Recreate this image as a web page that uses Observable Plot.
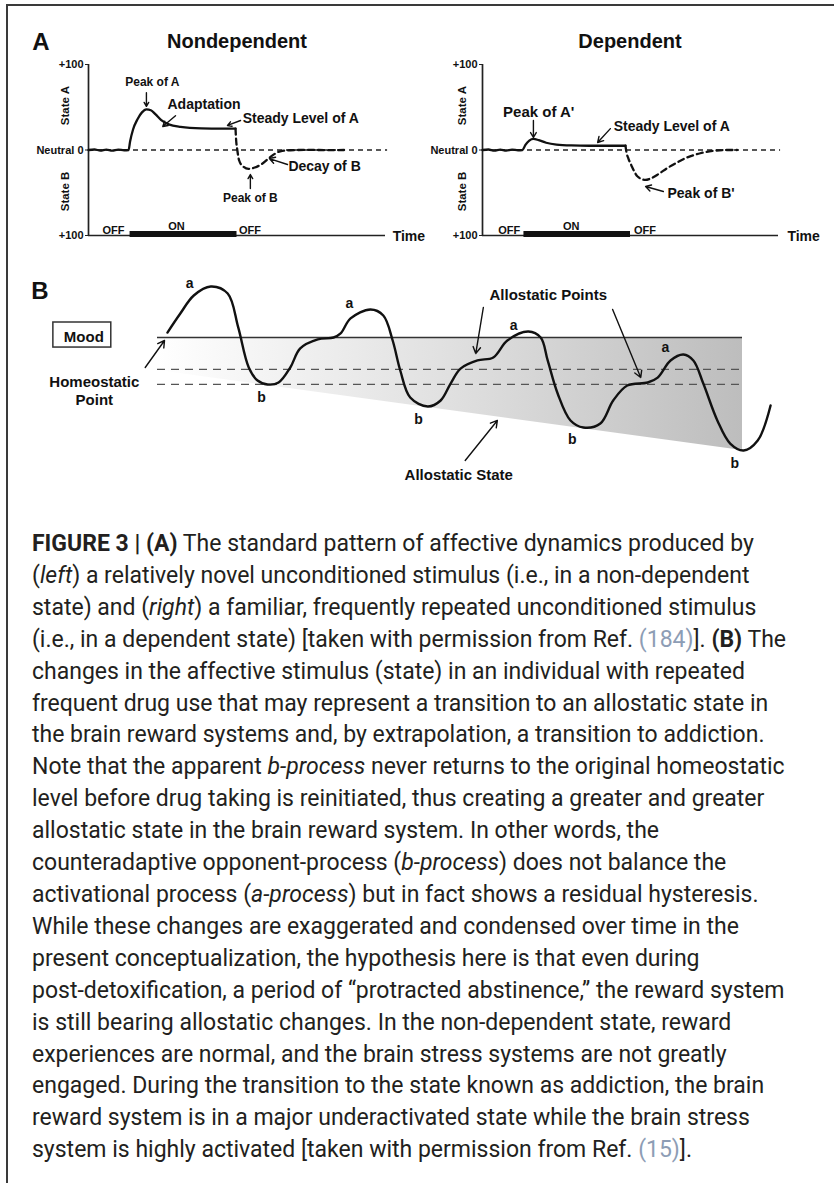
<!DOCTYPE html>
<html>
<head>
<meta charset="utf-8">
<script src="https://cdn.jsdelivr.net/npm/d3@7"></script>
<script src="https://cdn.jsdelivr.net/npm/@observablehq/plot@0.6"></script>
<style>
  body { margin: 0; background: #fff; }
  #page { position: relative; width: 834px; height: 1183px; overflow: hidden; background: #fff;
          font-family: "Liberation Sans", Arial, sans-serif; color: #111; }
  #frame { position: absolute; left: 6px; top: 4px; width: 900px; height: 1300px;
           border-left: 2px solid #3a3a3a; border-top: 2px solid #3a3a3a; }
  .panel { position: absolute; top: 0; }
  .lbl { position: absolute; font-weight: bold; transform: translate(-50%, -50%); white-space: nowrap; line-height: 1; }
  #caption { position: absolute; left: 32px; top: 528px; font-family: Roboto, "Noto Sans", sans-serif;
             font-size: 23px; line-height: 31.9px; color: #231f20; white-space: nowrap; }
  #caption b { font-weight: 700; }
  .ref { color: #8d9db5; }
</style>
</head>
<body>
<div id="page">
  <div id="frame"></div>
  <div class="lbl" style="left:41px;top:42px;font-size:24px">A</div>
  <div class="lbl" style="left:237px;top:41px;font-size:20px">Nondependent</div>
  <div class="lbl" style="left:630px;top:41px;font-size:20px">Dependent</div>
  <div class="lbl" style="left:40px;top:291px;font-size:24px">B</div>
  <div id="plotL" class="panel" style="left:0px"></div>
  <div id="plotR" class="panel" style="left:400px"></div>
  <div id="plotB" class="panel" style="left:0px;top:260px"></div>
  <div id="caption"></div>
</div>
<script>
// ---------------- Panel A data (t = time units 0..100, v = state -100..+100, A positive) ----------------
const yTicks = [-100, 0, 100];
const yTickLabels = ["+100", "Neutral 0", "+100"];
const onPeriod = [14, 50];

const leftSolid = [
  [0,0],[2,0.6],[4,-0.6],[6,0.5],[8,-0.8],[10,0.4],[12,-0.3],[13.5,0],
  [14,10],[15,24],[16.5,36],[18,44],[19.5,47.5],[21,46.5],[22.5,42],[24.5,35],
  [27,30],[31,27],[38,25.3],[45,25],[49.5,25]
];
const leftDashed = [
  [49.5,25],[49.7,12],[50.1,0],[50.7,-12],[52,-19],[53.9,-22],[56,-20.5],[58.5,-16],
  [61.3,-8],[64.6,-1.5],[68,-0.3],[75,0.2],[80,-0.2],[86.5,0]
];
const rightSolid = [
  [0,0],[2,0.6],[4,-0.7],[6,0.5],[8,-0.6],[10,0.4],[12,-0.3],[13.5,0],
  [14.5,6],[15.8,11],[17.2,13],[19,11.5],[21.5,8.5],[25,6.3],[30,5.3],[36,5],[48.3,5]
];
const rightDashed = [
  [48.3,5],[48.6,-2],[49.3,-10],[50.3,-18],[52.4,-31],[55,-35],[57,-33],[59.5,-28],
  [62.5,-21],[65.5,-15],[68.6,-9.5],[73.6,-3.8],[78,-1],[82,0],[86,0]
];

const leftLabels = [
  {t:21.5, v:79, text:"Peak of A", size:12, anchor:"middle"},
  {t:26.6, v:53, text:"Adaptation", size:14, anchor:"start"},
  {t:51.9, v:37, text:"Steady Level of A", size:14, anchor:"start"},
  {t:67.3, v:-19, text:"Decay of B", size:14, anchor:"start"},
  {t:54.5, v:-56, text:"Peak of B", size:12, anchor:"middle"},
  {t:8.4, v:-94, text:"OFF", size:11, anchor:"middle"},
  {t:29.6, v:-89, text:"ON", size:11, anchor:"middle"},
  {t:54.4, v:-94, text:"OFF", size:11, anchor:"middle"},
  {t:102.4, v:-101, text:"Time", size:14, anchor:"start"}
];
const leftArrows = [
  {t1:19.5, v1:67, t2:19.5, v2:51},
  {t1:29.3, v1:40, t2:25.0, v2:27.5},
  {t1:51.2, v1:34.5, t2:46.8, v2:28.7},
  {t1:67, v1:-17, t2:60.9, v2:-10},
  {t1:54.5, v1:-45, t2:54.5, v2:-28.7}
];
const rightLabels = [
  {t:19, v:44, text:"Peak of A'", size:15, anchor:"middle"},
  {t:44.3, v:27.5, text:"Steady Level of A", size:14, anchor:"start"},
  {t:62.5, v:-51, text:"Peak of B'", size:14, anchor:"start"},
  {t:9, v:-94, text:"OFF", size:11, anchor:"middle"},
  {t:30, v:-89, text:"ON", size:11, anchor:"middle"},
  {t:54.9, v:-94, text:"OFF", size:11, anchor:"middle"},
  {t:103, v:-101, text:"Time", size:14, anchor:"start"}
];
const rightArrows = [
  {t1:17.2, v1:34.5, t2:17.2, v2:14.6},
  {t1:43.2, v1:25, t2:38.9, v2:8.8},
  {t1:61.1, v1:-48.5, t2:55.1, v2:-42.7}
];
const stateLabels = [
  {text:"State A", v:52},
  {text:"State B", v:-48.5}
];

// ---------------- Panel B data (t = time 0..100, v = mood, 0 = homeostatic set point) ----------------
const wave = [
  [1.7,3.3],[3.9,16],[6.2,28],[9.1,34],[12.0,29.3],[13.8,6.7],[15.6,-20],[17.1,-28.7],
  [18.8,-31.3],[20.7,-30],[22.7,-20],[24.4,-7.3],[27.4,-1.3],[30.1,0],[31.3,2.7],[33.0,12.7],
  [36.4,18.7],[38.6,14.7],[40.2,-2],[41.5,-22],[43.2,-40],[46.2,-46],[48.4,-42],[50.1,-30.7],
  [51.8,-20.7],[54.7,-15.3],[57.4,-13.3],[59.8,-2],[63.4,4],[65.5,0],[66.7,-15.3],[68.4,-37.3],
  [70.6,-55.3],[72.8,-60],[75.7,-57.3],[77.9,-42],[80.3,-32],[83.8,-30],[85.5,-26.7],[87.7,-15.3],
  [89.9,-11.3],[91.6,-15.3],[93.3,-30.7],[95.7,-55.3],[97.9,-70.7],[100.2,-75.3],[102.6,-68.7],[104.8,-45.3]
];
const homeostaticBand = [-21.3, -31.3];
const allostaticState = [
  {t:0, top:0, bottom:-22},
  {t:100, top:0, bottom:-75.3}
];
const moodBox = [{t1:-17.8, t2:-7.9, v1:10, v2:-6.7}];
const waveLabels = [
  {t:5.5, v:36, text:"a"},{t:32.8, v:22.7, text:"a"},{t:60.9, v:8, text:"a"},{t:86.8, v:-6.7, text:"a"},
  {t:17.8, v:-40, text:"b"},{t:44.6, v:-54.7, text:"b"},{t:70.9, v:-68, text:"b"},{t:98.7, v:-84, text:"b"}
];
const bLabels = [
  {t:-12.6, v:1.3, text:"Mood"},
  {t:-10.8, v:-35, text:"Homeostatic\nPoint"},
  {t:66.8, v:29.3, text:"Allostatic Points"},
  {t:51.5, v:-90.7, text:"Allostatic State"}
];
const bArrows = [
  {t1:-2.1, v1:-20, t2:1.2, v2:-2},
  {t1:55.7, v1:20, t2:54.4, v2:-10.7},
  {t1:77.8, v1:18.7, t2:82.6, v2:-26.7},
  {t1:52.6, v1:-82, t2:58.1, v2:-55.3}
];

// ---------------- Caption ----------------
const captionLines = [
  '<b>FIGURE 3 | (A)</b> The standard pattern of affective dynamics produced by',
  '(<i>left</i>) a relatively novel unconditioned stimulus (i.e., in a non-dependent',
  'state) and (<i>right</i>) a familiar, frequently repeated unconditioned stimulus',
  '(i.e., in a dependent state) [taken with permission from Ref. <span class="ref">(184)</span>]. <b>(B)</b> The',
  'changes in the affective stimulus (state) in an individual with repeated',
  'frequent drug use that may represent a transition to an allostatic state in',
  'the brain reward systems and, by extrapolation, a transition to addiction.',
  'Note that the apparent <i>b-process</i> never returns to the original homeostatic',
  'level before drug taking is reinitiated, thus creating a greater and greater',
  'allostatic state in the brain reward system. In other words, the',
  'counteradaptive opponent-process (<i>b-process</i>) does not balance the',
  'activational process (<i>a-process</i>) but in fact shows a residual hysteresis.',
  'While these changes are exaggerated and condensed over time in the',
  'present conceptualization, the hypothesis here is that even during',
  'post-detoxification, a period of \u201cprotracted abstinence,\u201d the reward system',
  'is still bearing allostatic changes. In the non-dependent state, reward',
  'experiences are normal, and the brain stress systems are not greatly',
  'engaged. During the transition to the state known as addiction, the brain',
  'reward system is in a major underactivated state while the brain stress',
  'system is highly activated [taken with permission from Ref. <span class="ref">(15)</span>].'
];

// ---------------- Drawing ----------------
const ink = "#111";
const FONT = '"Liberation Sans", Arial, Helvetica, sans-serif';
const svgStyle = {background: "transparent", overflow: "visible", fontFamily: FONT, color: ink};
const toObj = (arr) => arr.map(([t, v]) => ({t, v}));

function panelA(cfg) {
  return Plot.plot({
    width: cfg.width, height: 250,
    marginLeft: cfg.marginLeft, marginRight: cfg.marginRight, marginTop: 64, marginBottom: 15,
    x: {domain: [0, 100], axis: null},
    y: {domain: [-100, 100], axis: null},
    style: svgStyle,
    marks: [
      Plot.ruleY([0], {x1: 0, x2: 100.7, stroke: "#222", strokeWidth: 1.3, strokeDasharray: "5,4"}),
      Plot.ruleX([0], {y1: -100, y2: 100, stroke: "#222", strokeWidth: 1.7}),
      Plot.ruleY([-100], {x1: 0, x2: 100, stroke: "#222", strokeWidth: 1.7}),
      Plot.ruleY([-100], {x1: onPeriod[0], x2: onPeriod[1], stroke: ink, strokeWidth: 6, dy: -1.5}),
      Plot.axisY({ticks: yTicks, tickFormat: (d) => yTickLabels[yTicks.indexOf(d)], tickSize: 3,
                  tickPadding: 2, fontSize: 11, fontWeight: "bold", stroke: "#222"}),
      Plot.text(stateLabels, {x: cfg.stateT, y: "v", text: "text", rotate: -90, fontSize: 11.5,
                              fontWeight: "bold", fill: ink}),
      Plot.line(toObj(cfg.solid), {x: "t", y: "v", curve: "monotone-x", stroke: ink, strokeWidth: 2.3}),
      Plot.line(toObj(cfg.dashed), {x: "t", y: "v", curve: "monotone-x", stroke: ink, strokeWidth: 2.3,
                                    strokeDasharray: "6,4"}),
      Plot.text(cfg.labels.filter(d => d.anchor === "start"), {x: "t", y: "v", text: "text",
                fontSize: d => d.size, fontWeight: "bold", textAnchor: "start", fill: ink}),
      Plot.text(cfg.labels.filter(d => d.anchor === "middle"), {x: "t", y: "v", text: "text",
                fontSize: d => d.size, fontWeight: "bold", textAnchor: "middle", fill: ink}),
      Plot.arrow(cfg.arrows, {x1: "t1", y1: "v1", x2: "t2", y2: "v2", stroke: ink, strokeWidth: 1.4,
                              headLength: 7})
    ]
  });
}

document.getElementById("plotL").appendChild(panelA({
  width: 440, marginLeft: 88, marginRight: 55, stateT: -7.7,
  solid: leftSolid, dashed: leftDashed, labels: leftLabels, arrows: leftArrows
}));
document.getElementById("plotR").appendChild(panelA({
  width: 434, marginLeft: 82, marginRight: 56, stateT: -6.8,
  solid: rightSolid, dashed: rightDashed, labels: rightLabels, arrows: rightArrows
}));

const plotB = Plot.plot({
  width: 834, height: 230,
  marginLeft: 157, marginRight: 92, marginTop: 17, marginBottom: 3,
  x: {domain: [0, 100], axis: null},
  y: {domain: [-100, 40], axis: null},
  style: svgStyle,
  marks: [
    Plot.areaY(allostaticState, {x: "t", y1: "top", y2: "bottom", fill: "url(#alloGrad)"}),
    Plot.ruleY([0], {x1: 0, x2: 100, stroke: "#333", strokeWidth: 1.4}),
    Plot.ruleY(homeostaticBand, {x1: 0, x2: 100, stroke: "#555", strokeWidth: 1.3, strokeDasharray: "8,6"}),
    Plot.line(toObj(wave), {x: "t", y: "v", curve: "catmull-rom", stroke: ink, strokeWidth: 2.4}),
    Plot.rect(moodBox, {x1: "t1", x2: "t2", y1: "v1", y2: "v2", fill: "none", stroke: "#333", strokeWidth: 1.5}),
    Plot.text(waveLabels, {x: "t", y: "v", text: "text", fontSize: 14, fontWeight: "bold", fill: ink}),
    Plot.text(bLabels, {x: "t", y: "v", text: "text", fontSize: 15, fontWeight: "bold", fill: ink, lineHeight: 1.25}),
    Plot.arrow(bArrows, {x1: "t1", y1: "v1", x2: "t2", y2: "v2", stroke: ink, strokeWidth: 1.4, headLength: 8})
  ]
});
{
  const defs = d3.select(plotB).insert("defs", ":first-child");
  const g = defs.append("linearGradient").attr("id", "alloGrad")
    .attr("x1", "0").attr("x2", "1").attr("y1", "0").attr("y2", "0");
  g.append("stop").attr("offset", "0").attr("stop-color", "#ffffff");
  g.append("stop").attr("offset", "0.5").attr("stop-color", "#e0e0e0");
  g.append("stop").attr("offset", "1").attr("stop-color", "#bdbdbd");
}
document.getElementById("plotB").appendChild(plotB);

document.getElementById("caption").innerHTML = captionLines.map(l => `<div>${l}</div>`).join("");
</script>
</body>
</html>
